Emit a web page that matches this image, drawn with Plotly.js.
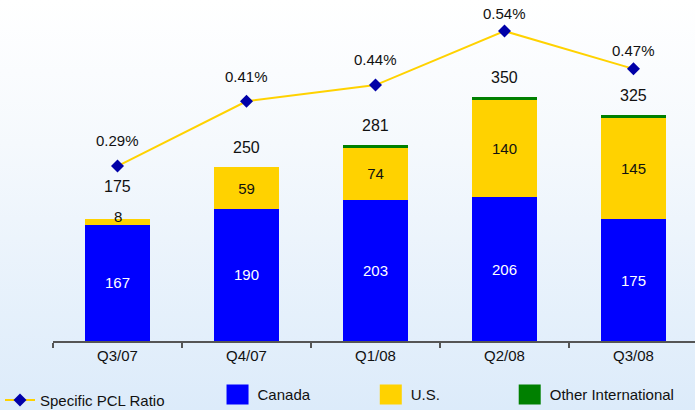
<!DOCTYPE html>
<html>
<head>
<meta charset="utf-8">
<script src="https://cdn.plot.ly/plotly-3.0.1.min.js"></script>
<style>
  html, body { margin: 0; padding: 0; }
  #chart { width: 695px; height: 410px; background: linear-gradient(to bottom, #ffffff 0%, #f5f9fd 35%, #dcebfa 100%); }
</style>
</head>
<body>
<div id="chart"></div>
<script>
const quarters = ["Q3/07", "Q4/07", "Q1/08", "Q2/08", "Q3/08"];
const canada = [167, 190, 203, 206, 175];
const us = [8, 59, 74, 140, 145];
const otherIntl = [0, 1, 4, 4, 5];
const totals = [175, 250, 281, 350, 325];
const pclRatio = [0.29, 0.41, 0.44, 0.54, 0.47];
const pclLabels = ["0.29%", "0.41%", "0.44%", "0.54%", "0.47%"];

const FONT = "Liberation Sans, Arial, sans-serif";

// the first U.S. segment is too thin for an inside label; it is written as an annotation
const usTextPos = us.map((v, i) => (i === 0 ? "none" : "inside"));

const traces = [
  {
    type: "scatter", mode: "lines+markers", name: "Specific PCL Ratio",
    x: quarters, y: pclRatio, yaxis: "y2",
    line: { color: "#FFD200", width: 2 },
    marker: { symbol: "diamond", size: 10, color: "#0000A8" },
    legend: "legend", hoverinfo: "skip"
  },
  {
    type: "bar", name: "Canada", x: quarters, y: canada,
    marker: { color: "#0000FF" },
    text: canada.map(String), textposition: "inside", insidetextanchor: "middle",
    textfont: { color: "#ffffff", size: 15, family: FONT },
    legend: "legend2"
  },
  {
    type: "bar", name: "U.S.", x: quarters, y: us,
    marker: { color: "#FFD200" },
    text: us.map(String), textposition: usTextPos, insidetextanchor: "middle",
    textfont: { color: "#111111", size: 15, family: FONT },
    legend: "legend3"
  },
  {
    type: "bar", name: "Other International", x: quarters, y: otherIntl,
    marker: { color: "#008000" },
    legend: "legend4"
  }
];

const pclShift = [15, 14, 15, 7, 8];
const annotations = [];
quarters.forEach((q, i) => {
  annotations.push({
    x: q, y: totals[i], xref: "x", yref: "y", text: String(totals[i]),
    showarrow: false, yanchor: "bottom", yshift: i === 0 ? 22 : 9,
    font: { size: 16, color: "#111111", family: FONT }
  });
  annotations.push({
    x: q, y: pclRatio[i], xref: "x", yref: "y2", text: pclLabels[i],
    showarrow: false, yanchor: "bottom", yshift: pclShift[i],
    font: { size: 15, color: "#111111", family: FONT }
  });
});
annotations.push({
  x: quarters[0], y: totals[0], xref: "x", yref: "y", text: String(us[0]),
  showarrow: false, yanchor: "middle", yshift: 3,
  font: { size: 15, color: "#111111", family: FONT }
});

const legendBase = { orientation: "h", bgcolor: "rgba(0,0,0,0)", font: { size: 15, family: FONT, color: "#111" }, xanchor: "left", yanchor: "middle", xref: "container", yref: "container" };

const layout = {
  width: 695, height: 410,
  margin: { l: 53, r: 0, t: 10, b: 69, autoexpand: false },
  paper_bgcolor: "rgba(0,0,0,0)", plot_bgcolor: "rgba(0,0,0,0)",
  barmode: "stack", bargap: 0.495,
  font: { family: FONT, color: "#111" },
  xaxis: {
    type: "category", range: [-0.5, 4.477], automargin: false,
    showline: true, linecolor: "#555", linewidth: 1.5,
    ticks: "outside", tickson: "boundaries", ticklen: 5, tickcolor: "#555", tickwidth: 1.5,
    tickfont: { size: 15, family: FONT, color: "#111" }, showgrid: false
  },
  yaxis: { range: [0, 475], visible: false, showgrid: false, zeroline: false },
  yaxis2: { range: [-0.034, 0.579], overlaying: "y", side: "right", visible: false, showgrid: false, zeroline: false },
  showlegend: true,
  legend: Object.assign({}, legendBase, { x: -0.0085, y: 0.024 }),
  legend2: Object.assign({}, legendBase, { x: 0.313, y: 0.037 }),
  legend3: Object.assign({}, legendBase, { x: 0.5335, y: 0.037 }),
  legend4: Object.assign({}, legendBase, { x: 0.7334, y: 0.037 }),
  annotations: annotations
};

function enlargeLegendSquares() {
  const gd = document.getElementById("chart");
  gd.querySelectorAll("g.legendpoints path").forEach(p => {
    const d = p.getAttribute("d") || "";
    if (p.classList.contains("scatterpts") || d.indexOf("L") >= 0 || d.indexOf("A") >= 0) return;
    if (d.indexOf("H") < 0 || d.indexOf("V") < 0) return;
    let bb;
    try { bb = p.getBBox(); } catch (e) { return; }
    if (Math.abs(bb.width - 12) < 1.5 && Math.abs(bb.height - 12) < 1.5) {
      p.setAttribute("d", "M11,10H-11V-10H11Z");
      p.style.strokeWidth = "0";
    }
  });
}

Plotly.newPlot("chart", traces, layout, { displayModeBar: false, staticPlot: true }).then(gd => {
  enlargeLegendSquares();
  setTimeout(enlargeLegendSquares, 0);
  setTimeout(enlargeLegendSquares, 60);
  gd.on("plotly_afterplot", enlargeLegendSquares);
});
</script>
</body>
</html>
